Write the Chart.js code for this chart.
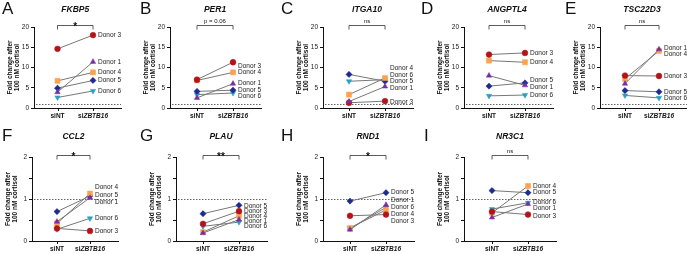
<!DOCTYPE html>
<html>
<head>
<meta charset="utf-8">
<script src="https://cdn.jsdelivr.net/npm/chart.js@4.4.1/dist/chart.umd.min.js"></script>
<style>
  body { margin: 0; background: #fff; }
  #fig { position: relative; width: 687px; height: 254px; overflow: hidden; background: #fff; }
  #fig canvas { position: absolute; }
</style>
</head>
<body>
<div id="fig"></div>
<script>
// conditions and donors (values below are in this donor order)
var conditions = ['siNT', 'siZBTB16'];
var donors = ['Donor 1', 'Donor 3', 'Donor 4', 'Donor 5', 'Donor 6'];

// y tick values for the two rows
var topTicks = [0, 5, 10, 15, 20];
var bottomTicks = [0, 0.5, 1, 1.5, 2];

// fold change after 100 nM cortisol, per gene
var fkbp5_siNT     = [3.9, 14.6, 6.7, 4.9, 2.6];
var fkbp5_siZBTB16 = [11.4, 18.0, 8.8, 6.8, 4.2];
var fkbp5_labelAt  = [11.4, 18.0, 8.8, 6.8, 4.2];

var per1_siNT     = [2.5, 7.0, 6.8, 4.1, 3.3];
var per1_siZBTB16 = [6.0, 11.3, 8.8, 4.4, 3.7];
var per1_labelAt  = [6.0, 10.4, 8.8, 4.4, 2.8];

var itga10_siNT     = [1.6, 1.3, 3.3, 8.3, 6.6];
var itga10_siZBTB16 = [5.3, 1.7, 7.4, 6.6, 7.0];
var itga10_labelAt  = [5.0, 1.5, 9.8, 6.6, 8.2];

var angptl4_siNT     = [8.0, 13.2, 11.7, 5.4, 3.0];
var angptl4_siZBTB16 = [5.6, 13.6, 11.3, 6.2, 3.2];
var angptl4_labelAt  = [5.1, 13.6, 11.3, 6.8, 3.2];

var tsc22d3_siNT     = [6.0, 8.0, 7.2, 4.3, 3.1];
var tsc22d3_siZBTB16 = [14.5, 7.9, 14.1, 4.0, 2.5];
var tsc22d3_labelAt  = [14.8, 7.9, 13.4, 4.0, 2.5];

var ccl2_siNT     = [0.46, 0.30, 0.42, 0.70, 0.28];
var ccl2_siZBTB16 = [1.03, 0.24, 1.13, 1.07, 0.54];
var ccl2_labelAt  = [0.92, 0.24, 1.29, 1.10, 0.54];

var plau_siNT     = [0.19, 0.41, 0.21, 0.65, 0.35];
var plau_siZBTB16 = [0.51, 0.71, 0.60, 0.85, 0.45];
var plau_labelAt  = [0.47, 0.71, 0.59, 0.84, 0.35];

var rnd1_siNT     = [0.27, 0.60, 0.31, 0.95, 0.30];
var rnd1_siZBTB16 = [0.86, 0.63, 0.74, 1.15, 0.80];
var rnd1_labelAt  = [0.97, 0.48, 0.64, 1.15, 0.81];

var nr3c1_siNT     = [0.56, 0.70, 0.67, 1.20, 0.76];
var nr3c1_siZBTB16 = [0.88, 0.63, 1.31, 1.15, 0.91];
var nr3c1_labelAt  = [0.77, 0.58, 1.31, 1.15, 0.93];

// marker styles per donor
var donorColors = ['#7b2ea3', '#b3141b', '#fba24f', '#1d2b8f', '#2a9fc0'];
var donorShapes = ['triangle', 'circle', 'rect', 'rectRot', 'triangle'];
var donorRotation = [0, 0, 0, 0, 180];
var donorRadius = [3.1, 2.9, 3.6, 3.1, 3.1];

var FF = '"Liberation Sans", Arial, sans-serif';

var rows = [
  { top: 0,   plotTop: 27,  plotBottom: 108, ticks: topTicks },
  { top: 127, plotTop: 157, plotBottom: 241, ticks: bottomTicks }
];

var panels = [
  { letter: 'A', gene: 'FKBP5',   nt: fkbp5_siNT,   kd: fkbp5_siZBTB16,   lab: fkbp5_labelAt,   stat: '*',        row: 0, axisX: 34,  ntX: 57.5, kdX: 93,  letterX: 2 },
  { letter: 'B', gene: 'PER1',    nt: per1_siNT,    kd: per1_siZBTB16,    lab: per1_labelAt,    stat: 'p = 0.06', row: 0, axisX: 170, ntX: 197,  kdX: 233, letterX: 140 },
  { letter: 'C', gene: 'ITGA10',  nt: itga10_siNT,  kd: itga10_siZBTB16,  lab: itga10_labelAt,  stat: 'ns',       row: 0, axisX: 323, ntX: 349,  kdX: 385, letterX: 281 },
  { letter: 'D', gene: 'ANGPTL4', nt: angptl4_siNT, kd: angptl4_siZBTB16, lab: angptl4_labelAt, stat: 'ns',       row: 0, axisX: 464, ntX: 489,  kdX: 525, letterX: 421 },
  { letter: 'E', gene: 'TSC22D3', nt: tsc22d3_siNT, kd: tsc22d3_siZBTB16, lab: tsc22d3_labelAt, stat: 'ns',       row: 0, axisX: 600, ntX: 625,  kdX: 659, letterX: 565 },
  { letter: 'F', gene: 'CCL2',    nt: ccl2_siNT,    kd: ccl2_siZBTB16,    lab: ccl2_labelAt,    stat: '*',        row: 1, axisX: 32,  ntX: 57,   kdX: 90,  letterX: 2 },
  { letter: 'G', gene: 'PLAU',    nt: plau_siNT,    kd: plau_siZBTB16,    lab: plau_labelAt,    stat: '**',       row: 1, axisX: 176, ntX: 203,  kdX: 239, letterX: 140 },
  { letter: 'H', gene: 'RND1',    nt: rnd1_siNT,    kd: rnd1_siZBTB16,    lab: rnd1_labelAt,    stat: '*',        row: 1, axisX: 323, ntX: 350,  kdX: 386, letterX: 281 },
  { letter: 'I', gene: 'NR3C1',   nt: nr3c1_siNT,   kd: nr3c1_siZBTB16,   lab: nr3c1_labelAt,   stat: 'ns',       row: 1, axisX: 464, ntX: 492,  kdX: 528, letterX: 424 }
];

// draws letters, titles, bracket, dotted line, x labels and donor names
function decor(p, canvasLeft) {
  return {
    id: 'decor' + p.letter,
    beforeDatasetsDraw: function(chart) {
      var ctx = chart.ctx, a = chart.chartArea;
      var y1 = Math.round(chart.scales.y.getPixelForValue(1)) + 0.5;
      ctx.save();
      ctx.strokeStyle = '#666';
      ctx.lineWidth = 1;
      ctx.setLineDash([1.5, 1.5]);
      ctx.beginPath();
      ctx.moveTo(a.left + 2, y1);
      ctx.lineTo(a.right, y1);
      ctx.stroke();
      ctx.restore();
    },
    afterDraw: function(chart) {
      var ctx = chart.ctx, a = chart.chartArea;
      var xs = chart.scales.x, ys = chart.scales.y;
      var x0 = xs.getPixelForValue(0), x1 = xs.getPixelForValue(1);
      ctx.save();
      ctx.fillStyle = '#111';

      // panel letter
      ctx.font = '17px ' + FF;
      ctx.textAlign = 'left';
      ctx.textBaseline = 'top';
      ctx.fillText(p.letter, p.letterX - canvasLeft, 1);

      // gene title
      ctx.font = 'italic bold 8.5px ' + FF;
      ctx.textAlign = 'center';
      ctx.textBaseline = 'middle';
      ctx.fillText(p.gene, (x0 + x1) / 2, 9.5);

      // y axis title
      var cy = (a.top + a.bottom) / 2;
      ctx.font = 'bold 6.5px ' + FF;
      ctx.save();
      ctx.translate(a.left - 24, cy);
      ctx.rotate(-Math.PI / 2);
      ctx.fillText('Fold change after', 0, 0);
      ctx.restore();
      ctx.save();
      ctx.translate(a.left - 17, cy);
      ctx.rotate(-Math.PI / 2);
      ctx.fillText('100 nM cortisol', 0, 0);
      ctx.restore();

      // bracket + stat
      var yb = Math.round(a.top - 2) + 0.5;
      ctx.strokeStyle = '#333';
      ctx.lineWidth = 0.8;
      ctx.beginPath();
      ctx.moveTo(x0, yb + 4);
      ctx.lineTo(x0, yb);
      ctx.lineTo(x1, yb);
      ctx.lineTo(x1, yb + 4);
      ctx.stroke();
      ctx.textBaseline = 'alphabetic';
      if (p.stat.charAt(0) === '*') {
        ctx.font = 'bold 10px ' + FF;
        ctx.fillText(p.stat, (x0 + x1) / 2, yb + 4);
      } else {
        ctx.font = '6px ' + FF;
        ctx.fillText(p.stat, (x0 + x1) / 2, yb - 3);
      }

      // x ticks and labels
      ctx.strokeStyle = '#111';
      ctx.lineWidth = 1;
      ctx.beginPath();
      ctx.moveTo(Math.round(x0) + 0.5, a.bottom);
      ctx.lineTo(Math.round(x0) + 0.5, a.bottom + 3);
      ctx.moveTo(Math.round(x1) + 0.5, a.bottom);
      ctx.lineTo(Math.round(x1) + 0.5, a.bottom + 3);
      ctx.stroke();
      var ly = a.bottom + 8.5;
      ctx.textBaseline = 'middle';
      ctx.font = 'bold 6.5px ' + FF;
      ctx.textAlign = 'center';
      ctx.fillText(conditions[0], x0, ly);
      var pre = conditions[1].slice(0, 2), rest = conditions[1].slice(2);
      var w1 = ctx.measureText(pre).width;
      ctx.font = 'italic bold 6.5px ' + FF;
      var w2 = ctx.measureText(rest).width;
      var sx = x1 - (w1 + w2) / 2;
      ctx.textAlign = 'left';
      ctx.font = 'bold 6.5px ' + FF;
      ctx.fillText(pre, sx, ly);
      ctx.font = 'italic bold 6.5px ' + FF;
      ctx.fillText(rest, sx + w1, ly);

      // donor names
      ctx.font = '6.5px ' + FF;
      ctx.fillStyle = '#222';
      for (var i = 0; i < donors.length; i++) {
        ctx.fillText(donors[i], x1 + 5, ys.getPixelForValue(p.lab[i]));
      }
      ctx.restore();
    }
  };
}

var fig = document.getElementById('fig');

panels.forEach(function(p) {
  var r = rows[p.row];
  var yW = 44, rightRoom = 42, H = 127;
  var unit = p.kdX - p.ntX;
  var plotRight = p.kdX + 28;
  var canvasLeft = p.axisX - yW;
  var W = Math.round(yW + (plotRight - p.axisX) + rightRoom);

  var cv = document.createElement('canvas');
  cv.width = W; cv.height = H;
  cv.style.width = W + 'px'; cv.style.height = H + 'px';
  cv.style.left = canvasLeft + 'px';
  cv.style.top = r.top + 'px';
  fig.appendChild(cv);

  var datasets = [];
  for (var i = 0; i < donors.length; i++) {
    datasets.push({
      label: donors[i],
      data: [{ x: 0, y: p.nt[i] }, { x: 1, y: p.kd[i] }],
      borderColor: '#777',
      borderWidth: 1,
      pointStyle: donorShapes[i],
      pointRotation: donorRotation[i],
      pointRadius: donorRadius[i],
      pointBackgroundColor: donorColors[i],
      pointBorderColor: donorColors[i],
      pointBorderWidth: 0.5,
      fill: false,
      tension: 0,
      clip: false
    });
  }

  new Chart(cv, {
    type: 'line',
    data: { datasets: datasets },
    options: {
      responsive: false,
      animation: false,
      events: [],
      layout: { padding: { top: r.plotTop - r.top, bottom: 0, left: 0, right: rightRoom } },
      plugins: { legend: { display: false }, tooltip: { enabled: false } },
      scales: {
        x: {
          type: 'linear',
          min: (p.axisX - p.ntX) / unit,
          max: (plotRight - p.ntX) / unit,
          grid: { display: false },
          border: { display: true, color: '#111', width: 1 },
          ticks: { display: false },
          afterFit: function(s) { s.height = r.top + H - r.plotBottom; }
        },
        y: {
          min: 0,
          max: r.ticks[r.ticks.length - 1],
          afterBuildTicks: function(s) {
            s.ticks = r.ticks.map(function(v) { return { value: v }; });
          },
          afterFit: function(s) { s.width = yW; },
          grid: { drawOnChartArea: false, drawTicks: true, tickLength: 3, color: '#111' },
          border: { display: true, color: '#111', width: 1 },
          ticks: {
            padding: 2,
            color: '#222',
            font: { family: FF, size: 6.5 },
            callback: function(v) { return v % 1 === 0 ? v : ''; }
          }
        }
      }
    },
    plugins: [decor(p, canvasLeft)]
  });
});
</script>
</body>
</html>
